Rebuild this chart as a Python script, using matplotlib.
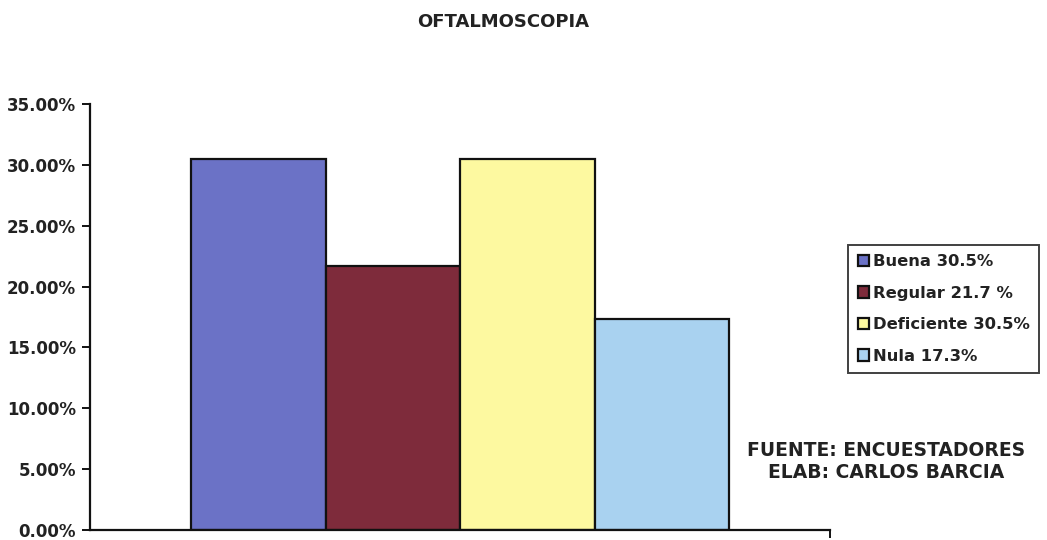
import matplotlib.pyplot as plt
from matplotlib.ticker import PercentFormatter

plt.rcParams['font.family'] = ['DejaVu Sans']

labels = ["Buena 30.5%", "Regular 21.7 %", "Deficiente 30.5%", "Nula 17.3%"]
values = [30.5, 21.7, 30.5, 17.3]
colors = ["#6b72c6", "#7e2b3b", "#fdf9a0", "#a9d2f0"]

fig = plt.figure(figsize=(10.47, 5.40), dpi=100)
ax = fig.add_axes([0.086, 0.0185, 0.707, 0.7889])

w = 0.1818
start = 0.5 - 2 * w
for i, (lab, v, c) in enumerate(zip(labels, values, colors)):
    ax.bar(start + w * i, v, width=w, align="edge", color=c,
           edgecolor="#111111", linewidth=1.6, label=lab)

ax.set_xlim(0, 1)
ax.set_ylim(0, 35)
ax.set_yticks(range(0, 36, 5))
ax.yaxis.set_major_formatter(PercentFormatter(decimals=2))
ax.set_xticks([1])
ax.set_xticklabels([""])
for s in ["top", "right"]:
    ax.spines[s].set_visible(False)
for s in ["left", "bottom"]:
    ax.spines[s].set_linewidth(1.6)
    ax.spines[s].set_color("#111111")
ax.tick_params(axis="both", length=6, width=1.4, color="#111111", pad=4)
for t in ax.get_yticklabels():
    t.set_fontsize(12)
    t.set_fontweight("bold")
    t.set_color("#222222")

fig.text(0.481, 0.959, "OFTALMOSCOPIA", ha="center", va="center",
         fontsize=13, fontweight="bold", color="#222222")

leg = fig.legend(loc="upper left", bbox_to_anchor=(0.81, 0.547),
                 frameon=True, fancybox=False, edgecolor="#111111",
                 handlelength=0.7, handleheight=0.7, handletextpad=0.2,
                 labelspacing=1.0, borderpad=0.6, borderaxespad=0,
                 prop={"size": 11.8, "weight": "bold"})
leg.get_frame().set_linewidth(1.4)
for t in leg.get_texts():
    t.set_color("#222222")

fig.text(0.8467, 0.1454, "FUENTE: ENCUESTADORES\nELAB: CARLOS BARCIA",
         ha="center", va="center", fontsize=13.5, fontweight="bold",
         color="#222222", linespacing=1.2)

fig.savefig("out.png", dpi=100)
